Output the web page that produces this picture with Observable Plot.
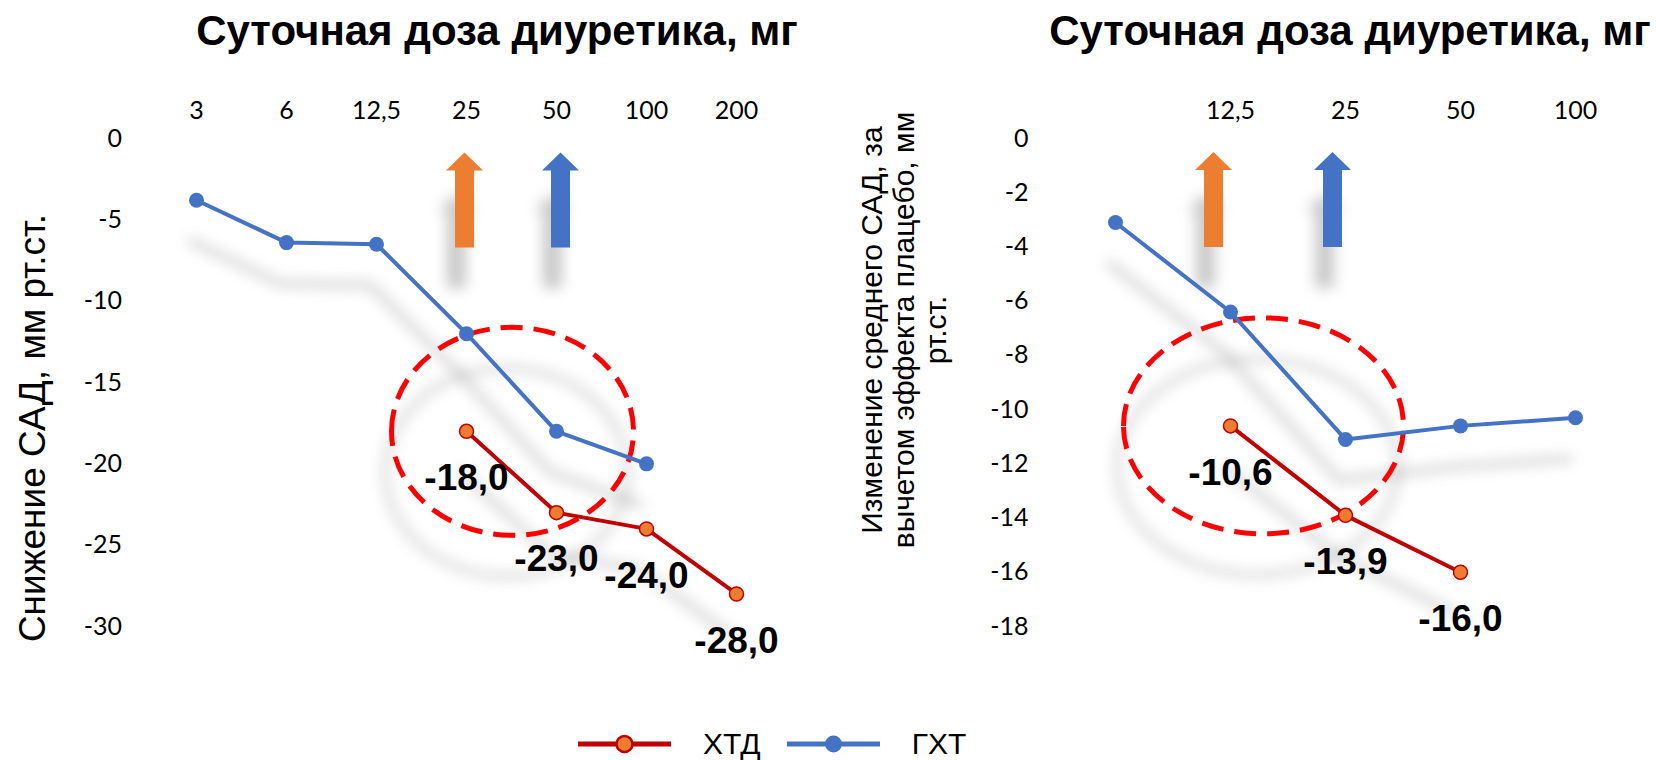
<!DOCTYPE html>
<html lang="ru">
<head>
<meta charset="utf-8">
<title>Суточная доза диуретика и снижение САД</title>
<script src="https://cdn.jsdelivr.net/npm/d3@7"></script>
<script src="https://cdn.jsdelivr.net/npm/@observablehq/plot@0.6"></script>
<style>
  html, body { margin: 0; padding: 0; background: #fff; }
  #page { position: relative; width: 1661px; height: 760px; overflow: hidden;
          font-family: "Liberation Sans", Arial, sans-serif; color: #000; background: #fff; }
  .panel { position: absolute; top: 0; }
  .title { position: absolute; top: 10px; width: 800px; text-align: center; font-weight: bold;
           font-size: 42px; line-height: 42px; white-space: nowrap; }
  .ytitle { position: absolute; text-align: center; white-space: nowrap; transform: rotate(-90deg); }
  #ytitle-left { left: -267px; top: 407px; width: 600px; height: 42px; font-size: 37px; line-height: 42px; }
  #ytitle-right { left: 644px; top: 282px; width: 520px; height: 96px; font-size: 30px; line-height: 32px; }
  #legend { position: absolute; left: 578px; top: 730px; height: 28px; display: flex; align-items: center;
            font-size: 30px; line-height: 28px; }
  #legend .key { display: flex; align-items: center; margin-right: 26px; }
  #legend .key svg { margin-right: 32px; }
</style>
</head>
<body>
<div id="page">
  <div class="panel" id="left"></div>
  <div class="panel" id="right" style="left:830px"></div>
  <div class="title" style="left:97px">Суточная доза диуретика, мг</div>
  <div class="title" style="left:950px">Суточная доза диуретика, мг</div>
  <div class="ytitle" id="ytitle-left">Снижение САД, мм рт.ст.</div>
  <div class="ytitle" id="ytitle-right">Изменение среднего САД, за<br>вычетом эффекта плацебо, мм<br>рт.ст.</div>
  <div id="legend"></div>
</div>
<script>
// ---- data ----
// left: daily dose (mg) vs. SBP reduction, mm Hg
const doseLeft = ["3", "6", "12,5", "25", "50", "100", "200"];
const ghtLeftDose = ["3", "6", "12,5", "25", "50", "100"];
const ghtLeftValue = [-3.8, -6.4, -6.5, -12.0, -18.0, -20.0];
const xtdLeftDose = ["25", "50", "100", "200"];
const xtdLeftValue = [-18.0, -23.0, -24.0, -28.0];
const yTicksLeft = [0, -5, -10, -15, -20, -25, -30];

// right: daily dose (mg) vs. placebo-corrected change of mean SBP, mm Hg
const doseRight = ["", "12,5", "25", "50", "100"];
const ghtRightDose = ["", "12,5", "25", "50", "100"];
const ghtRightValue = [-3.1, -6.4, -11.1, -10.6, -10.3];
const xtdRightDose = ["12,5", "25", "50"];
const xtdRightValue = [-10.6, -13.9, -16.0];
const yTicksRight = [0, -2, -4, -6, -8, -10, -12, -14, -16, -18];

// series names for the legend
const seriesNames = ["ХТД", "ГХТ"];

// ---- styling ----
const BLUE = "#4472C4";
const DARKRED = "#C00000";
const ORANGE = "#ED7D31";
const RED = "#FF0000";
const SHADOW = "#7f7f7f";
const SH = {dx: -6, dy: 41};

const rows = (doses, values) => doses.map((dose, i) => ({dose, value: values[i]}));
const fmt = v => v.toFixed(1).replace(".", ",");

// block arrow pointing up, origin at the middle of the shaft's base
const blockArrow = {
  draw(ctx) {
    ctx.moveTo(-9.5, 0);
    ctx.lineTo(-9.5, -77);
    ctx.lineTo(-18.5, -77);
    ctx.lineTo(0, -95);
    ctx.lineTo(18.5, -77);
    ctx.lineTo(9.5, -77);
    ctx.lineTo(9.5, 0);
    ctx.closePath();
  }
};

// ellipse outline drawn with four cubic curves
function ellipse(rx, ry) {
  const k = 0.5523, ox = rx * k, oy = ry * k;
  return {
    draw(ctx) {
      ctx.moveTo(-rx, 0);
      ctx.bezierCurveTo(-rx, -oy, -ox, -ry, 0, -ry);
      ctx.bezierCurveTo(ox, -ry, rx, -oy, rx, 0);
      ctx.bezierCurveTo(rx, oy, ox, ry, 0, ry);
      ctx.bezierCurveTo(-ox, ry, -rx, oy, -rx, 0);
      ctx.closePath();
    }
  };
}

function panel(o) {
  const ght = rows(o.ghtDose, o.ghtValue);
  const xtd = rows(o.xtdDose, o.xtdValue);
  const ringSymbol = ellipse(o.ring.rx, o.ring.ry);
  const ring = [{dose: o.ring.dose, value: o.ring.value}];
  const arrowMarks = shadow => o.arrows.map(a =>
    Plot.dot([a], {
      x: "dose", y: o.arrowBase, symbol: blockArrow, r: 1,
      dx: a.dx + (shadow ? SH.dx - 2 : 0), dy: shadow ? SH.dy : 0,
      fill: shadow ? SHADOW : a.fill, stroke: "none"
    }));

  const svg = Plot.plot({
    width: o.width,
    height: 660,
    marginTop: 138,
    marginBottom: 34,
    marginLeft: o.marginLeft,
    marginRight: o.marginRight,
    style: {fontFamily: "Lato", fontSize: "25px", color: "#000", background: "transparent", overflow: "visible"},
    x: {type: "point", domain: o.doses, padding: 0.5, axis: "top", tickSize: 0, tickPadding: 20, label: null},
    y: {domain: o.yDomain, ticks: o.yTicks, tickSize: 0, tickPadding: o.tickPadY, label: null,
        tickFormat: d => String(d)},
    marks: [
      // soft drop shadows
      Plot.dot(ring, {x: "dose", y: "value", dx: o.ring.dx + SH.dx, dy: SH.dy, symbol: ringSymbol, r: 1,
                      fill: "none", stroke: SHADOW, strokeWidth: 5}),
      ...arrowMarks(true),
      Plot.line(ght, {x: "dose", y: "value", dx: SH.dx, dy: SH.dy, stroke: SHADOW, strokeWidth: 6}),
      Plot.line(xtd, {x: "dose", y: "value", dx: SH.dx, dy: SH.dy, stroke: SHADOW, strokeWidth: 6}),
      // highlighted region and recommended doses
      Plot.dot(ring, {x: "dose", y: "value", dx: o.ring.dx, symbol: ringSymbol, r: 1,
                      fill: "none", stroke: RED, strokeWidth: 5, strokeDasharray: "22,11"}),
      ...arrowMarks(false),
      // series
      Plot.line(ght, {x: "dose", y: "value", stroke: BLUE, strokeWidth: 4}),
      Plot.dot(ght, {x: "dose", y: "value", fill: BLUE, r: 7.5}),
      Plot.line(xtd, {x: "dose", y: "value", stroke: DARKRED, strokeWidth: 4}),
      Plot.dot(xtd, {x: "dose", y: "value", fill: ORANGE, stroke: DARKRED, strokeWidth: 1.5, r: 7}),
      Plot.text(xtd, {x: "dose", y: "value", text: d => fmt(d.value), dy: 47,
                      fontFamily: "Liberation Sans", fontSize: 37, fontWeight: "bold", fill: "#000"})
    ]
  });

  // blur the shadow layers
  const id = "soft-" + o.key;
  const f = d3.select(svg).insert("defs", ":first-child")
    .append("filter").attr("id", id)
    .attr("filterUnits", "userSpaceOnUse")
    .attr("x", -100).attr("y", -100).attr("width", o.width + 200).attr("height", 900);
  f.append("feGaussianBlur").attr("stdDeviation", 7);
  d3.select(svg).selectAll(`g[fill="${SHADOW}"], g[stroke="${SHADOW}"]`)
    .attr("filter", `url(#${id})`).attr("opacity", 0.42);
  return svg;
}

document.getElementById("left").append(panel({
  key: "left", width: 830, marginLeft: 147.6, marginRight: 46.4, tickPadY: 26,
  doses: doseLeft, yDomain: [-30, 0], yTicks: yTicksLeft,
  ghtDose: ghtLeftDose, ghtValue: ghtLeftValue, xtdDose: xtdLeftDose, xtdValue: xtdLeftValue,
  arrows: [{dose: "25", fill: ORANGE, dx: -2}, {dose: "50", fill: BLUE, dx: 4}], arrowBase: -6.7,
  ring: {dose: "25", value: -18, dx: 46, rx: 121, ry: 104}
}));

document.getElementById("right").append(panel({
  key: "right", width: 831, marginLeft: 225.1, marginRight: 27.1, tickPadY: 27,
  doses: doseRight, yDomain: [-18, 0], yTicks: yTicksRight,
  ghtDose: ghtRightDose, ghtValue: ghtRightValue, xtdDose: xtdRightDose, xtdValue: xtdRightValue,
  arrows: [{dose: "12,5", fill: ORANGE, dx: -17}, {dose: "25", fill: BLUE, dx: -13}], arrowBase: -4.0,
  ring: {dose: "12,5", value: -10.6, dx: 33, rx: 140, ry: 108}
}));

// legend: line with marker + series name
const legendStyle = [
  {stroke: DARKRED, fill: ORANGE, markerStroke: DARKRED, r: 8},
  {stroke: BLUE, fill: BLUE, markerStroke: "none", r: 8.5}
];
const legend = d3.select("#legend");
seriesNames.forEach((name, i) => {
  const s = legendStyle[i];
  const key = legend.append("span").attr("class", "key");
  const sw = key.append("svg").attr("width", 93).attr("height", 24);
  sw.append("line").attr("x1", 0).attr("x2", 93).attr("y1", 12).attr("y2", 12)
    .attr("stroke", s.stroke).attr("stroke-width", 5);
  sw.append("circle").attr("cx", 46.5).attr("cy", 12).attr("r", s.r)
    .attr("fill", s.fill).attr("stroke", s.markerStroke).attr("stroke-width", 2.5);
  key.append("span").text(name);
});
</script>
</body>
</html>
